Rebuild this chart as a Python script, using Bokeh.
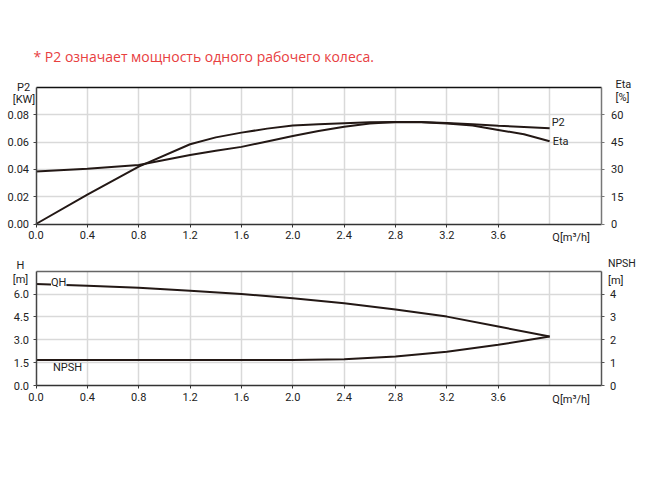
from bokeh.plotting import figure
from bokeh.models import Range1d, LinearAxis, FixedTicker, Label, Grid
from bokeh.embed import file_html
from bokeh.resources import INLINE

# ---- data ----
q_top = [0.0, 0.4, 0.8, 1.2, 1.4, 1.6, 1.8, 2.0, 2.2, 2.4, 2.6, 2.8, 3.0, 3.2, 3.4, 3.6, 3.8, 4.0]
p2_kw = [0.0385, 0.0405, 0.0433, 0.0505, 0.0536, 0.0565, 0.0605, 0.0644, 0.0681, 0.0713,
         0.0736, 0.0748, 0.0748, 0.0740, 0.0731, 0.0720, 0.0711, 0.0701]
eta_pct = [0.0, 16.1, 31.5, 43.8, 47.6, 50.2, 52.4, 54.1, 54.8, 55.4,
           55.9, 56.1, 55.9, 55.2, 54.1, 51.7, 49.3, 45.5]

q_bot = [0.0, 0.4, 0.8, 1.2, 1.6, 2.0, 2.4, 2.8, 3.2, 3.6, 4.0]
head_m = [6.66, 6.55, 6.41, 6.22, 6.00, 5.72, 5.39, 4.98, 4.52, 3.87, 3.21]
npsh_m = [1.12, 1.12, 1.12, 1.12, 1.12, 1.12, 1.15, 1.27, 1.48, 1.78, 2.14]

x_ticks = [0.0, 0.4, 0.8, 1.2, 1.6, 2.0, 2.4, 2.8, 3.2, 3.6]
x_grid = [0.4, 0.8, 1.2, 1.6, 2.0, 2.4, 2.8, 3.2, 3.6, 4.0]
p2_ticks = [0.0, 0.02, 0.04, 0.06, 0.08]
eta_ticks = [0, 15, 30, 45, 60]
h_ticks = [0.0, 1.5, 3.0, 4.5, 6.0]
npsh_ticks = [0, 1, 2, 3, 4]

title_text = "* P2 означает мощность одного рабочего колеса."

# ---- layout constants (page pixels) ----
W, H = 646, 470
PAGE0 = 0
X0_PX, X1_PX = 35.5, 600.5          # q = 0 and q = 4.4
Q_MAX = 4.4
TOP0_PX, TOP1_PX = 223.5, 87.0      # P2 = 0 and P2 = 0.1
P2_MAX, ETA_MAX = 0.1, 75.0
BOT0_PX, BOT1_PX = 385.0, 270.7     # H = 0 and H = 7.5
H_MAX, NPSH_MAX = 7.5, 5.0


def span(v0, v1, p0, p1, lo_edge, hi_edge):
    k = (p1 - p0) / (v1 - v0)
    return Range1d(v0 + (lo_edge - p0) / k, v1 + (hi_edge - p1) / k)


x_range = span(0, Q_MAX, X0_PX, X1_PX, PAGE0, PAGE0 + W)
y_p2 = span(0, P2_MAX, TOP0_PX, TOP1_PX, PAGE0 + H, PAGE0)
y_eta = span(0, ETA_MAX, TOP0_PX, TOP1_PX, PAGE0 + H, PAGE0)
y_h = span(0, H_MAX, BOT0_PX, BOT1_PX, PAGE0 + H, PAGE0)
y_npsh = span(0, NPSH_MAX, BOT0_PX, BOT1_PX, PAGE0 + H, PAGE0)

FONT = "Roboto"
LINE = "#231815"
GRID = "#d9d9d9"
FS = "11px"

p = figure(width=W, height=H, x_range=x_range, y_range=y_p2,
           output_backend="svg", toolbar_location=None,
           x_axis_location=None, y_axis_location=None,
           min_border=0, min_border_left=0, min_border_right=0,
           min_border_top=0, min_border_bottom=0)
p.extra_y_ranges = {"eta": y_eta, "h": y_h, "npsh": y_npsh}
p.outline_line_color = None
p.background_fill_color = "white"
p.border_fill_color = "white"
for g in p.grid:
    g.visible = False

HAS_CROSS = "cross_bounds" in Grid.properties()


def add_grid(dim, ticks, rng, cross):
    kw = dict(dimension=dim, ticker=FixedTicker(ticks=ticks), y_range_name=rng,
              grid_line_color=GRID, grid_line_width=1.5)
    if HAS_CROSS:
        kw["cross_bounds"] = cross
        p.add_layout(Grid(**kw), "center")
    else:
        if dim == 0:
            p.segment(x0=ticks, x1=ticks, y0=[cross[0]] * len(ticks), y1=[cross[1]] * len(ticks),
                      line_color=GRID, line_width=1.5, y_range_name=rng, level="underlay")
        else:
            p.segment(x0=[cross[0]] * len(ticks), x1=[cross[1]] * len(ticks), y0=ticks, y1=ticks,
                      line_color=GRID, line_width=1.5, y_range_name=rng, level="underlay")


def make_axis(side, rng, loc, bounds, ticks, labels, line_color, standoff=4, lw=1.5):
    ax = LinearAxis(y_range_name=rng, fixed_location=loc, bounds=bounds,
                    ticker=FixedTicker(ticks=ticks))
    ax.major_label_overrides = {t: l for t, l in zip(ticks, labels)}
    ax.axis_line_color = line_color
    ax.axis_line_width = lw
    ax.major_tick_line_color = line_color
    ax.major_tick_out = 3
    ax.major_tick_in = 0
    ax.minor_tick_line_color = None
    ax.major_label_text_font = FONT
    ax.major_label_text_font_size = FS
    ax.major_label_text_color = "#222222"
    ax.major_label_standoff = standoff
    p.add_layout(ax, side)
    return ax


def lab(text, x, y, xo, yo, rng="default", align="center", size=FS, bg=None, color="#222222", font=FONT):
    kw = {}
    if bg:
        kw["background_fill_color"] = bg
    p.add_layout(Label(x=x, y=y, x_offset=xo, y_offset=yo, text=text, text_align=align,
                       text_baseline="middle", text_font=font, text_font_size=size,
                       text_color=color, y_range_name=rng, **kw))


# ---- top chart: P2 and Eta ----
add_grid(0, x_grid, "default", (0, P2_MAX))
add_grid(1, p2_ticks[1:], "default", (0, Q_MAX))
make_axis("below", "default", 0, (0, Q_MAX), x_ticks, [f"{t:.1f}" for t in x_ticks], "#333333")
make_axis("left", "default", 0, (0, P2_MAX), p2_ticks, [f"{t:.2f}" for t in p2_ticks], "#444444")
make_axis("right", "eta", Q_MAX, (0, ETA_MAX), eta_ticks, [str(t) for t in eta_ticks], "#777777", standoff=7)
make_axis("above", "default", P2_MAX, (0, Q_MAX), [], [], "#111111")

p.line(q_top, p2_kw, line_color=LINE, line_width=2)
p.line(q_top, eta_pct, line_color=LINE, line_width=2, y_range_name="eta")

lab(title_text, 0, P2_MAX, -2.5, 31.5, align="left", size="14px", color="#e8403f", font="Open Sans")
lab("P2", 0, P2_MAX, -12.5, 0.5)
lab("[KW]", 0, P2_MAX, -12, -12)
lab("Eta", Q_MAX, P2_MAX, 14.5, 3.5, align="left")
lab("[%]", Q_MAX, P2_MAX, 14.5, -10, align="left")
lab("P2", q_top[-1], p2_kw[-1], 2, 6, align="left")
lab("Eta", q_top[-1], eta_pct[-1], 3, 0, rng="eta", align="left")
lab("Q[m³/h]", Q_MAX, 0, -11, -13.5, align="right")

# ---- bottom chart: QH and NPSH ----
add_grid(0, x_grid, "h", (0, H_MAX))
add_grid(1, h_ticks[1:], "h", (0, Q_MAX))
make_axis("below", "h", 0, (0, Q_MAX), x_ticks, [f"{t:.1f}" for t in x_ticks], "#333333")
make_axis("left", "h", 0, (0, H_MAX), h_ticks, [f"{t:.1f}" for t in h_ticks], "#444444")
make_axis("right", "npsh", Q_MAX, (0, NPSH_MAX), npsh_ticks, [str(t) for t in npsh_ticks], "#555555", standoff=6)
make_axis("above", "h", H_MAX, (0, Q_MAX), [], [], "#666666")

p.line(q_bot, head_m, line_color=LINE, line_width=2, y_range_name="h")
p.line(q_bot, npsh_m, line_color=LINE, line_width=2, y_range_name="npsh")

lab("H", 0, H_MAX, -15.5, 5.5, rng="h")
lab("[m]", 0, H_MAX, -15.5, -8.5, rng="h")
lab("NPSH", Q_MAX, H_MAX, 7, 7.5, rng="h", align="left", size="10.5px")
lab("[m]", Q_MAX, H_MAX, 7, -9, rng="h", align="left")
lab("QH", 0, head_m[0], 15, 1.5, rng="h", align="left", bg="white")
lab("NPSH", 0, npsh_m[0], 17, -8, rng="npsh", align="left")
lab("Q[m³/h]", Q_MAX, 0, -11, -13.5, rng="h", align="right")

open("out.html", "w").write(file_html(p, INLINE))
